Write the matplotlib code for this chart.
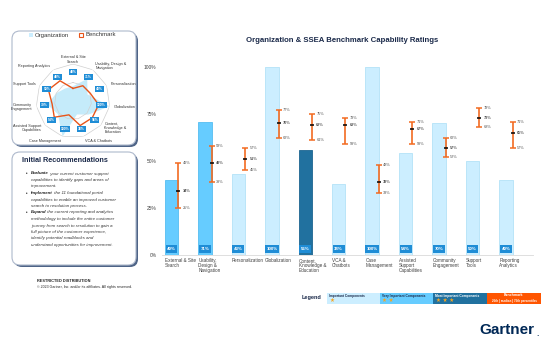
import numpy as np
import matplotlib.pyplot as plt
from matplotlib.patches import FancyBboxPatch, Rectangle

plt.rcParams['font.family'] = ['Liberation Sans', 'DejaVu Sans']

categories = ['External & Site\nSearch', 'Usability,\nDesign &\nNavigation', 'Personalization',
              'Globalization', 'Content,\nKnowledge &\nEducation', 'VCA &\nChatbots',
              'Case\nManagement', 'Assisted\nSupport\nCapabilities', 'Community\nEngagement',
              'Support\nTools', 'Reporting\nAnalytics']
radar_labels = ['External & Site\nSearch', 'Usability, Design &\nNavigation', 'Personalization',
                'Globalization', 'Content,\nKnowledge &\nEducation', 'VCA & Chatbots',
                'Case Management', 'Assisted Support\nCapabilities', 'Community\nEngagement',
                'Support Tools', 'Reporting Analytics']
organization = [40, 71, 43, 100, 56, 38, 100, 54, 70, 50, 40]
importance = [2, 2, 1, 1, 3, 1, 1, 1, 1, 1, 1]
bench_p25 = [25, 39, 45, 62, 61, 59, 33, 59, 52, 68, 57]
bench_median = [34, 49, 51, 70, 69, 69, 39, 67, 57, 73, 65]
bench_p75 = [49, 58, 57, 77, 75, 73, 48, 71, 62, 78, 71]
yticks = [0, 25, 50, 75, 100]

fill_colors = {1: '#CCEEFF', 2: '#66CCFF', 3: '#21719F'}
edge_colors = {1: '#B3E2F7', 2: '#55BDF0', 3: '#1D6591'}
navy = '#1B2A4A'
orange = '#F26B21'
label_blue = '#1F8DD6'

fig = plt.figure(figsize=(5.5, 3.5), dpi=100)

# background layer in pixel coordinates
bg = fig.add_axes([0, 0, 1, 1])
bg.set_xlim(0, 550)
bg.set_ylim(350, 0)
bg.axis('off')

# ---- main bar chart ----
ax = fig.add_axes([162 / 550, 1 - 255 / 350, 371 / 550, 188 / 350])
x = np.arange(len(categories))
ax.bar(x, organization, width=0.4,
       color=[fill_colors[i] for i in importance],
       edgecolor=[edge_colors[i] for i in importance], linewidth=0.6, zorder=2)
ax.set_xlim(-0.284, 10.81)
ax.set_ylim(0, 100)

ax.errorbar(x + 0.2, bench_median,
            yerr=[np.subtract(bench_median, bench_p25), np.subtract(bench_p75, bench_median)],
            fmt='none', ecolor=orange, elinewidth=1.2, capsize=2.2, capthick=1.1, zorder=3)
ax.plot(x + 0.2, bench_median, ls='none', marker='_', color='black', ms=3.5, mew=1.1, zorder=4)
for xi, lo, md, hi in zip(x, bench_p25, bench_median, bench_p75):
    for v in (lo, md, hi):
        ax.text(xi + 0.33, v, f'{v}%', fontsize=2.8, va='center', ha='left',
                color='#555555', fontweight='bold' if v == md else 'normal')

for xi, v in zip(x, organization):
    ax.text(xi, 3.2, f'{v}%', ha='center', va='center', fontsize=3.2, color='white',
            fontweight='bold', zorder=5,
            bbox=dict(boxstyle='square,pad=0.35', fc=label_blue, ec='none'))

for xi, c in zip(x, categories):
    ax.text(xi - 0.2, -1.5, c, ha='left', va='top', fontsize=3.3, color='#404040',
            linespacing=1.05, clip_on=False)

ax.set_xticks([])
ax.set_yticks(yticks)
ax.set_yticklabels([f'{t}%' for t in yticks], fontsize=3.5, color='#404040')
ax.tick_params(axis='y', length=0, pad=4)
for s in ['top', 'right', 'left']:
    ax.spines[s].set_visible(False)
ax.spines['bottom'].set_color('#D9D9D9')
ax.spines['bottom'].set_linewidth(0.6)

bg.text(342, 41, 'Organization & SSEA Benchmark Capability Ratings', ha='center', va='center',
        fontsize=5.6, fontweight='bold', color=navy)

# ---- legend strip ----
bg.text(311, 298, 'Legend', ha='center', va='center', fontsize=4, fontweight='bold', color=navy)
cells = [(327, 380, '#CCEEFF', 'Important Components', 1, navy),
         (380, 433, '#66CCFF', 'Very Important Components', 2, navy),
         (433, 487, '#21719F', 'Most Important Components', 3, 'white')]
for x0, x1, fc, txt, nstar, tc in cells:
    bg.add_patch(Rectangle((x0, 293), x1 - x0, 11, fc=fc, ec='none'))
    bg.text(x0 + 2, 295.5, txt, fontsize=2.3, fontweight='bold', color=tc, va='center')
    bg.text(x0 + 2.5, 300.5, ' '.join(['\u2605'] * nstar), fontsize=4, color='#F5A623',
            va='center', family='DejaVu Sans')
bg.add_patch(Rectangle((487, 293), 54, 11, fc='#FF5500', ec='none'))
bg.text(514, 295.5, 'Benchmark', fontsize=2.5, fontweight='bold', color='white',
        ha='center', va='center')
bg.text(514, 301, '25th | median | 75th percentiles', fontsize=2.2, fontweight='bold',
        color='white', ha='center', va='center')

# ---- left panels ----
for (x0, y0, x1, y1) in [(12, 31, 136, 145), (12, 152, 136, 265)]:
    bg.add_patch(FancyBboxPatch((x0 + 2, y0 + 2), x1 - x0, y1 - y0,
                                boxstyle='round,pad=0,rounding_size=8',
                                fc='#4E6487', ec='none', zorder=1))
    bg.add_patch(FancyBboxPatch((x0, y0), x1 - x0, y1 - y0,
                                boxstyle='round,pad=0,rounding_size=8',
                                fc='white', ec='#AEB9CC', lw=0.8, zorder=2))

# radar legend
bg.add_patch(Rectangle((29, 33), 4, 4, fc='#CCEEFF', ec='none', zorder=3))
bg.text(35, 35, 'Organization', fontsize=4.3, va='center', color='#333333', zorder=3)
bg.add_patch(Rectangle((79, 33), 4, 4, fc='white', ec='#E8551A', lw=0.8, zorder=3))
bg.text(85, 35, 'Benchmark', fontsize=4.3, va='center', color='#333333', zorder=3)

# radar chart
rad = fig.add_axes([(73 - 37) / 550, 1 - (101 + 37) / 350, 74 / 550, 74 / 350],
                   projection='polar', zorder=3)
rad.patch.set_alpha(0)
rad.set_theta_offset(np.pi / 2)
rad.set_theta_direction(-1)
angles = np.linspace(0, 2 * np.pi, len(organization), endpoint=False)
ang_c = np.append(angles, angles[0])
for r in (0.5, 1.0):
    rad.plot(ang_c, [r] * len(ang_c), color='#D0D0D0', lw=0.5)
org_r = np.array(organization) / 100
med_r = np.array(bench_median) / 100
rad.fill(ang_c, np.append(org_r, org_r[0]), color='#C5EBFA', lw=0)
rad.plot(ang_c, np.append(med_r, med_r[0]), color='#E8551A', lw=1.0)
for a, v, lab in zip(angles, organization, radar_labels):
    rad.text(a, 0.78, f'{v}%', fontsize=2.4, color='white', fontweight='bold',
             ha='center', va='center',
             bbox=dict(boxstyle='square,pad=0.3', fc=label_blue, ec='none'))
    s = np.sin(a)
    ha = 'left' if s > 0.2 else ('right' if s < -0.2 else 'center')
    rad.text(a, 1.12, lab, fontsize=2.7, color='#333333', ha=ha, va='center',
             linespacing=1.1)
rad.set_ylim(0, 1)
rad.set_xticks([])
rad.set_yticks([])
rad.grid(False)
rad.spines['polar'].set_visible(False)

# recommendations
bg.text(22, 161, 'Initial Recommendations', fontsize=5.2, fontweight='bold', color=navy,
        va='center', zorder=3)
bullets = [
    ('Evaluate', ['your current customer support', 'capabilities to identify gaps and areas of',
                  'improvement.']),
    ('Implement', ['the 11 foundational portal', 'capabilities to enable an improved customer',
                   'search to resolution process.']),
    ('Expand', ['the current reporting and analytics', 'methodology to include the entire customer',
                'journey from search to resolution to gain a', 'full picture of the customer experience,',
                'identify potential roadblocks and',
                'understand opportunities for improvement.']),
]
line = 0
for word, rest in bullets:
    y = 173.5 + line * 6.5
    bg.text(26, y, '\u2022', fontsize=3.3, va='center', color='#222222', zorder=3)
    w = bg.text(31, y, word, fontsize=3.2, fontweight='bold', style='italic', va='center',
                color='#222222', zorder=3)
    bg.annotate(' ' + rest[0], xy=(1, 0), xycoords=w, va='bottom', ha='left', fontsize=3.2,
                style='italic', color='#333333', zorder=3)
    line += 1
    for r in rest[1:]:
        bg.text(31, 173.5 + line * 6.5, r, fontsize=3.2, style='italic', va='center',
                color='#333333', zorder=3)
        line += 1

bg.text(37, 281, 'RESTRICTED DISTRIBUTION', fontsize=2.8, fontweight='bold', color='#222222',
        va='center')
bg.text(37, 287, '\u00a9 2023 Gartner, Inc. and/or its affiliates. All rights reserved.',
        fontsize=2.6, color='#222222', va='center')

bg.text(507, 330, 'Gartner', fontsize=11, fontweight='bold', color='#002856', ha='center',
        va='center')
bg.text(538, 334, '.', fontsize=6, fontweight='bold', color='#002856', ha='center', va='center')

fig.savefig('out.png', dpi=100)
